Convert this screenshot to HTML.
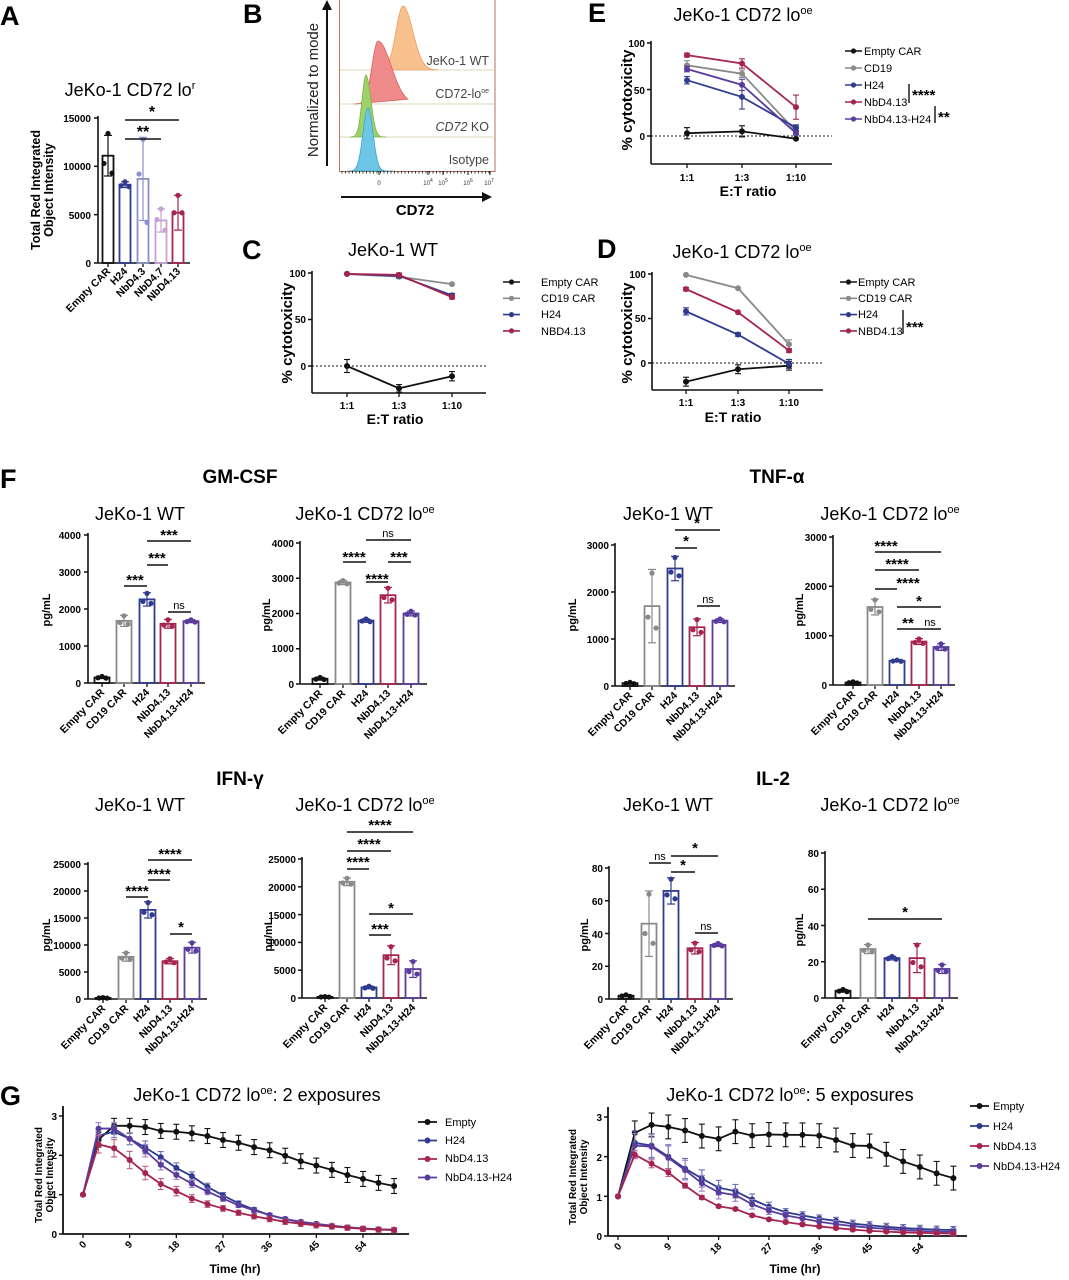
<!DOCTYPE html>
<html><head><meta charset="utf-8"><style>
html,body{margin:0;padding:0;background:#fff}
svg{display:block;font-family:"Liberation Sans",Arial,sans-serif}
.t{font-size:18px}
.b{font-weight:bold}
.tk{font-size:10px;font-weight:bold}
.lg{font-size:11px}
.cat{font-size:10.5px;font-weight:bold}
</style></head><body>
<svg id="s" width="1069" height="1280" viewBox="0 0 1069 1280" xmlns="http://www.w3.org/2000/svg">
<g id="shapes"></g>
<!-- Panel letters -->
<text x="0" y="25" font-size="27" class="b">A</text>
<text x="243" y="23" font-size="27" class="b">B</text>
<text x="242" y="259" font-size="27" class="b">C</text>
<text x="588" y="22" font-size="27" class="b">E</text>
<text x="597" y="258" font-size="27" class="b">D</text>
<text x="0" y="488" font-size="27" class="b">F</text>
<text x="0" y="1105" font-size="27" class="b">G</text>

<!-- A -->
<text x="130" y="96" text-anchor="middle" class="t">JeKo-1 CD72 lo<tspan font-size="11" dy="-7">r</tspan></text>
<g class="tk" text-anchor="end"><text x="91" y="122">15000</text><text x="91" y="170">10000</text><text x="91" y="219">5000</text><text x="91" y="267">0</text></g>
<text transform="translate(40,190) rotate(-90)" text-anchor="middle" font-size="12.5" class="b">Total Red Integrated</text>
<text transform="translate(53,190) rotate(-90)" text-anchor="middle" font-size="12.5" class="b">Object Intensity</text>
<g class="cat" text-anchor="end">
<text transform="translate(111,272) rotate(-45)">Empty CAR</text>
<text transform="translate(128,272) rotate(-45)">H24</text>
<text transform="translate(146,272) rotate(-45)">NbD4.3</text>
<text transform="translate(164,272) rotate(-45)">NbD4.7</text>
<text transform="translate(181,272) rotate(-45)">NbD4.13</text>
</g>
<text x="143" y="137" text-anchor="middle" font-size="16" class="b">**</text>
<text x="152" y="117" text-anchor="middle" font-size="16" class="b">*</text>

<!-- B -->
<text x="489" y="65" text-anchor="end" font-size="12.5" fill="#444">JeKo-1 WT</text>
<text x="489" y="98" text-anchor="end" font-size="12.5" fill="#444">CD72-lo<tspan font-size="7" dy="-5">oe</tspan></text>
<text x="489" y="131" text-anchor="end" font-size="12.5" fill="#444"><tspan font-style="italic">CD72</tspan> KO</text>
<text x="489" y="164" text-anchor="end" font-size="12.5" fill="#444">Isotype</text>
<text transform="translate(318,90) rotate(-90)" text-anchor="middle" font-size="15" fill="#222">Normalized to mode</text>
<g font-size="6" fill="#333" text-anchor="middle"><text x="379" y="185">0</text><text x="428" y="185">10<tspan font-size="5" dy="-3">4</tspan></text><text x="443" y="185">10<tspan font-size="5" dy="-3">5</tspan></text><text x="468" y="185">10<tspan font-size="5" dy="-3">6</tspan></text><text x="489" y="185">10<tspan font-size="5" dy="-3">7</tspan></text></g>
<text x="415" y="215" text-anchor="middle" font-size="15" class="b">CD72</text>

<!-- C -->
<text x="393" y="256" text-anchor="middle" class="t">JeKo-1 WT</text>
<g class="tk" text-anchor="end"><text x="306" y="277">100</text><text x="306" y="323">50</text><text x="306" y="370">0</text></g>
<text transform="translate(292,333) rotate(-90)" text-anchor="middle" font-size="15" class="b">% cytotoxicity</text>
<g class="tk" text-anchor="middle"><text x="347" y="409">1:1</text><text x="399" y="409">1:3</text><text x="452" y="409">1:10</text></g>
<text x="395" y="424" text-anchor="middle" font-size="14" class="b">E:T ratio</text>
<g class="lg"><text x="541" y="286">Empty CAR</text><text x="541" y="302">CD19 CAR</text><text x="541" y="318">H24</text><text x="541" y="335">NBD4.13</text></g>

<!-- E -->
<text x="743" y="21" text-anchor="middle" class="t">JeKo-1 CD72 lo<tspan font-size="11" dy="-7">oe</tspan></text>
<g class="tk" text-anchor="end"><text x="645" y="47">100</text><text x="645" y="94">50</text><text x="645" y="140">0</text></g>
<text transform="translate(632,100) rotate(-90)" text-anchor="middle" font-size="15" class="b">% cytotoxicity</text>
<g class="tk" text-anchor="middle"><text x="687" y="181">1:1</text><text x="742" y="181">1:3</text><text x="796" y="181">1:10</text></g>
<text x="748" y="196" text-anchor="middle" font-size="14" class="b">E:T ratio</text>
<g class="lg"><text x="864" y="55">Empty CAR</text><text x="864" y="72">CD19</text><text x="864" y="89">H24</text><text x="864" y="106">NbD4.13</text><text x="864" y="123">NbD4.13-H24</text></g>
<text x="912" y="100" font-size="15" class="b">****</text>
<text x="938" y="122" font-size="15" class="b">**</text>

<!-- D -->
<text x="742" y="258" text-anchor="middle" class="t">JeKo-1 CD72 lo<tspan font-size="11" dy="-7">oe</tspan></text>
<g class="tk" text-anchor="end"><text x="646" y="278">100</text><text x="646" y="322">50</text><text x="646" y="367">0</text></g>
<text transform="translate(632,333) rotate(-90)" text-anchor="middle" font-size="15" class="b">% cytotoxicity</text>
<g class="tk" text-anchor="middle"><text x="686" y="406">1:1</text><text x="738" y="406">1:3</text><text x="789" y="406">1:10</text></g>
<text x="733" y="422" text-anchor="middle" font-size="14" class="b">E:T ratio</text>
<g class="lg"><text x="858" y="286">Empty CAR</text><text x="858" y="302">CD19 CAR</text><text x="858" y="318">H24</text><text x="858" y="335">NBD4.13</text></g>
<text x="906" y="332" font-size="15" class="b">***</text>

<!-- F headers -->
<text x="240" y="483" text-anchor="middle" font-size="19" class="b">GM-CSF</text>
<text x="777" y="483" text-anchor="middle" font-size="19" class="b">TNF-α</text>
<text x="240" y="785" text-anchor="middle" font-size="19" class="b">IFN-γ</text>
<text x="773" y="785" text-anchor="middle" font-size="19" class="b">IL-2</text>
<g class="t" text-anchor="middle">
<text x="140" y="520">JeKo-1 WT</text>
<text x="365" y="520">JeKo-1 CD72 lo<tspan font-size="11" dy="-7">oe</tspan></text>
<text x="668" y="520">JeKo-1 WT</text>
<text x="890" y="520">JeKo-1 CD72 lo<tspan font-size="11" dy="-7">oe</tspan></text>
<text x="140" y="811">JeKo-1 WT</text>
<text x="365" y="811">JeKo-1 CD72 lo<tspan font-size="11" dy="-7">oe</tspan></text>
<text x="668" y="811">JeKo-1 WT</text>
<text x="890" y="811">JeKo-1 CD72 lo<tspan font-size="11" dy="-7">oe</tspan></text>
</g>
<!-- y labels -->
<g font-size="11" class="b">
<text transform="translate(50,610) rotate(-90)" text-anchor="middle">pg/mL</text>
<text transform="translate(270,615) rotate(-90)" text-anchor="middle">pg/mL</text>
<text transform="translate(576,615) rotate(-90)" text-anchor="middle">pg/mL</text>
<text transform="translate(803,610) rotate(-90)" text-anchor="middle">pg/mL</text>
<text transform="translate(50,935) rotate(-90)" text-anchor="middle">pg/mL</text>
<text transform="translate(272,935) rotate(-90)" text-anchor="middle">pg/mL</text>
<text transform="translate(588,935) rotate(-90)" text-anchor="middle">pg/mL</text>
<text transform="translate(803,930) rotate(-90)" text-anchor="middle">pg/mL</text>
</g>
<!-- y ticks F -->
<g class="tk" text-anchor="end">
<text x="81" y="539">4000</text><text x="81" y="576">3000</text><text x="81" y="613">2000</text><text x="81" y="650">1000</text><text x="81" y="687">0</text>
<text x="294" y="547">4000</text><text x="294" y="582">3000</text><text x="294" y="617">2000</text><text x="294" y="652">1000</text><text x="294" y="688">0</text>
<text x="609" y="549">3000</text><text x="609" y="596">2000</text><text x="609" y="643">1000</text><text x="609" y="690">0</text>
<text x="827" y="541">3000</text><text x="827" y="590">2000</text><text x="827" y="639">1000</text><text x="827" y="689">0</text>
<text x="81" y="868">25000</text><text x="81" y="895">20000</text><text x="81" y="922">15000</text><text x="81" y="949">10000</text><text x="81" y="976">5000</text><text x="81" y="1003">0</text>
<text x="296" y="863">25000</text><text x="296" y="891">20000</text><text x="296" y="919">15000</text><text x="296" y="946">10000</text><text x="296" y="974">5000</text><text x="296" y="1002">0</text>
<text x="603" y="872">80</text><text x="603" y="905">60</text><text x="603" y="938">40</text><text x="603" y="970">20</text><text x="603" y="1003">0</text>
<text x="819" y="857">80</text><text x="819" y="893">60</text><text x="819" y="930">40</text><text x="819" y="966">20</text><text x="819" y="1002">0</text>
</g>
<!-- categories F -->
<g class="cat" text-anchor="end">
<text transform="translate(105,693) rotate(-45)">Empty CAR</text><text transform="translate(127,693) rotate(-45)">CD19 CAR</text><text transform="translate(150,693) rotate(-45)">H24</text><text transform="translate(171,693) rotate(-45)">NbD4.13</text><text transform="translate(194,693) rotate(-45)">NbD4.13-H24</text>
<text transform="translate(323,694) rotate(-45)">Empty CAR</text><text transform="translate(346,694) rotate(-45)">CD19 CAR</text><text transform="translate(369,694) rotate(-45)">H24</text><text transform="translate(391,694) rotate(-45)">NbD4.13</text><text transform="translate(414,694) rotate(-45)">NbD4.13-H24</text>
<text transform="translate(633,696) rotate(-45)">Empty CAR</text><text transform="translate(655,696) rotate(-45)">CD19 CAR</text><text transform="translate(678,696) rotate(-45)">H24</text><text transform="translate(700,696) rotate(-45)">NbD4.13</text><text transform="translate(723,696) rotate(-45)">NbD4.13-H24</text>
<text transform="translate(856,695) rotate(-45)">Empty CAR</text><text transform="translate(878,695) rotate(-45)">CD19 CAR</text><text transform="translate(900,695) rotate(-45)">H24</text><text transform="translate(922,695) rotate(-45)">NbD4.13</text><text transform="translate(944,695) rotate(-45)">NbD4.13-H24</text>
<text transform="translate(106,1009) rotate(-45)">Empty CAR</text><text transform="translate(129,1009) rotate(-45)">CD19 CAR</text><text transform="translate(151,1009) rotate(-45)">H24</text><text transform="translate(173,1009) rotate(-45)">NbD4.13</text><text transform="translate(195,1009) rotate(-45)">NbD4.13-H24</text>
<text transform="translate(328,1008) rotate(-45)">Empty CAR</text><text transform="translate(350,1008) rotate(-45)">CD19 CAR</text><text transform="translate(372,1008) rotate(-45)">H24</text><text transform="translate(394,1008) rotate(-45)">NbD4.13</text><text transform="translate(416,1008) rotate(-45)">NbD4.13-H24</text>
<text transform="translate(629,1009) rotate(-45)">Empty CAR</text><text transform="translate(652,1009) rotate(-45)">CD19 CAR</text><text transform="translate(674,1009) rotate(-45)">H24</text><text transform="translate(698,1009) rotate(-45)">NbD4.13</text><text transform="translate(721,1009) rotate(-45)">NbD4.13-H24</text>
<text transform="translate(846,1008) rotate(-45)">Empty CAR</text><text transform="translate(871,1008) rotate(-45)">CD19 CAR</text><text transform="translate(895,1008) rotate(-45)">H24</text><text transform="translate(920,1008) rotate(-45)">NbD4.13</text><text transform="translate(945,1008) rotate(-45)">NbD4.13-H24</text>
</g>
<!-- sig text F -->
<g font-size="15" class="b" text-anchor="middle">
<text x="135" y="585">***</text><text x="157" y="563">***</text><text x="169" y="540">***</text>
<text x="354" y="562">****</text><text x="377" y="584">****</text><text x="399" y="562">***</text>
<text x="686" y="546">*</text><text x="697" y="528">*</text>
<text x="886" y="551">****</text><text x="897" y="569">****</text><text x="908" y="588">****</text><text x="919" y="606">*</text><text x="908" y="628">**</text>
<text x="137" y="896">****</text><text x="159" y="879">****</text><text x="170" y="859">****</text><text x="181" y="932">*</text>
<text x="358" y="867">****</text><text x="369" y="849">****</text><text x="380" y="830">****</text><text x="391" y="913">*</text><text x="380" y="934">***</text>
<text x="683" y="870">*</text><text x="695" y="853">*</text>
<text x="905" y="917">*</text>
</g>
<g font-size="11" text-anchor="middle">
<text x="179" y="609">ns</text><text x="388" y="537">ns</text><text x="708" y="603">ns</text><text x="930" y="626">ns</text><text x="660" y="860">ns</text><text x="706" y="930">ns</text>
</g>

<!-- G -->
<text x="257" y="1101" text-anchor="middle" class="t">JeKo-1 CD72 lo<tspan font-size="11" dy="-7">oe</tspan><tspan dy="7">: 2 exposures</tspan></text>
<text x="790" y="1101" text-anchor="middle" class="t">JeKo-1 CD72 lo<tspan font-size="11" dy="-7">oe</tspan><tspan dy="7">: 5 exposures</tspan></text>
<g class="tk" text-anchor="end">
<text x="57" y="1120">3</text><text x="57" y="1159">2</text><text x="57" y="1198">1</text><text x="57" y="1238">0</text>
<text x="602" y="1121">3</text><text x="602" y="1161">2</text><text x="602" y="1201">1</text><text x="602" y="1240">0</text>
</g>
<g font-size="10" class="b" text-anchor="middle">
<text transform="translate(42,1175) rotate(-90)">Total Red Integrated</text>
<text transform="translate(53,1175) rotate(-90)">Object Intensity</text>
<text transform="translate(576,1177) rotate(-90)">Total Red Integrated</text>
<text transform="translate(587,1177) rotate(-90)">Object Intensity</text>
</g>
<g class="tk" text-anchor="end">
<text transform="translate(87,1245) rotate(-45)">0</text><text transform="translate(133,1245) rotate(-45)">9</text><text transform="translate(180,1245) rotate(-45)">18</text><text transform="translate(227,1245) rotate(-45)">27</text><text transform="translate(273,1245) rotate(-45)">36</text><text transform="translate(320,1245) rotate(-45)">45</text><text transform="translate(367,1245) rotate(-45)">54</text>
<text transform="translate(622,1247) rotate(-45)">0</text><text transform="translate(672,1247) rotate(-45)">9</text><text transform="translate(722,1247) rotate(-45)">18</text><text transform="translate(773,1247) rotate(-45)">27</text><text transform="translate(823,1247) rotate(-45)">36</text><text transform="translate(873,1247) rotate(-45)">45</text><text transform="translate(924,1247) rotate(-45)">54</text>
</g>
<text x="235" y="1273" text-anchor="middle" font-size="12" class="b">Time (hr)</text>
<text x="795" y="1273" text-anchor="middle" font-size="12" class="b">Time (hr)</text>
<g class="lg">
<text x="445" y="1126">Empty</text><text x="445" y="1144">H24</text><text x="445" y="1162">NbD4.13</text><text x="445" y="1181">NbD4.13-H24</text>
<text x="993" y="1110">Empty</text><text x="993" y="1130">H24</text><text x="993" y="1150">NbD4.13</text><text x="993" y="1170">NbD4.13-H24</text>
</g>
</svg>
<script>
var NS="http://www.w3.org/2000/svg",S=document.getElementById("shapes");
function el(t,a){var e=document.createElementNS(NS,t);for(var k in a)e.setAttribute(k,a[k]);S.appendChild(e);return e;}
function ln(x1,y1,x2,y2,c,w,extra){var a={x1:x1,y1:y1,x2:x2,y2:y2,stroke:c||"#111","stroke-width":w||1.5};if(extra)for(var k in extra)a[k]=extra[k];return el("line",a);}
function dot(x,y,r,c){el("circle",{cx:x,cy:y,r:r,fill:c});}
var K="#111",G="#8a8a8a",B="#2f3b8f",R="#a52452",P="#5a3c9c",LB="#8b90c8",LP="#c7a2d2";
// bar chart
function bars(o){
 var sc=(o.y0-o.ytop)/o.max;
 ln(o.ax,o.ytop-2,o.ax,o.y0,K,1.6);ln(o.ax,o.y0,o.xend,o.y0,K,1.6);
 for(var i=0;i<=o.nt;i++){var y=o.y0-i*(o.y0-o.ytop)/o.nt;ln(o.ax-4,y,o.ax,y,K,1.5);}
 o.b.forEach(function(b){
  var y=o.y0-b[1]*sc,h=b[1]*sc,w=o.w||15;
  ln(b[0],o.y0,b[0],o.y0+4,K,1.3);
  el("rect",{x:b[0]-w/2,y:y,width:w,height:Math.max(h,0.5),fill:"none",stroke:b[3],"stroke-width":1.8});
  var e=b[2]*sc;ln(b[0],y-e,b[0],y+e,b[3],1.2);ln(b[0]-4,y-e,b[0]+4,y-e,b[3],1.2);ln(b[0]-4,y+e,b[0]+4,y+e,b[3],1.2);
  var pts=b[4]||[b[1]+b[2]*0.9,b[1]-b[2]*0.3,b[1]-b[2]*0.6];
  var xs=[b[0],b[0]-4,b[0]+4];
  pts.forEach(function(p,j){dot(xs[j],o.y0-p*sc,2.6,b[3]);});
 });
 (o.sig||[]).forEach(function(s){ln(s[0],s[2],s[1],s[2],K,1.5);});
}
// A
bars({ax:98,y0:263,ytop:118,max:15000,nt:3,xend:190,w:11,b:[[108,11100,2100,K,[13400,10300,9300]],[125,8100,300,B,[8400,8000,7900]],[143,8700,4300,LB,[12800,9200,4200]],[161,4400,1200,LP,[5600,4500,3400]],[178,5200,1800,R,[7000,5200,5200]]],sig:[[125,161,139],[125,179,120]]});
// F
bars({ax:88,y0:683,ytop:535,max:4000,nt:4,xend:205,b:[[102,150,30,K],[124,1680,150,G],[147,2260,180,B],[168,1600,120,R],[191,1670,40,P]],sig:[[124,147,586],[147,168,565],[147,191,541],[168,191,612]]});
bars({ax:300,y0:684,ytop:543,max:4000,nt:4,xend:427,b:[[320,150,40,K],[343,2880,60,G],[366,1800,50,B],[388,2520,220,R],[411,2000,70,P]],sig:[[343,366,562],[366,411,540],[366,388,582],[388,411,562]]});
bars({ax:615,y0:686,ytop:545,max:3000,nt:3,xend:735,b:[[630,60,20,K],[652,1700,780,G],[675,2500,260,B],[697,1250,180,R],[720,1390,40,P]],sig:[[675,697,548],[675,720,530],[697,720,606]]});
bars({ax:833,y0:685,ytop:537,max:3000,nt:3,xend:955,b:[[853,50,15,K],[875,1580,160,G],[897,490,15,B],[919,880,60,R],[941,770,70,P]],sig:[[875,941,552],[875,919,570],[875,897,589],[897,941,607],[897,919,629],[919,941,629]]});
bars({ax:88,y0:999,ytop:864,max:25000,nt:5,xend:207,b:[[103,200,60,K],[126,7800,800,G],[148,16500,1500,B],[170,7000,500,R],[192,9500,1000,P]],sig:[[126,148,897],[148,170,880],[148,192,860],[170,192,934]]});
bars({ax:302,y0:998,ytop:859,max:25000,nt:5,xend:427,b:[[325,200,50,K],[347,20900,700,G],[369,1900,250,B],[391,7700,1700,R],[413,5200,1500,P]],sig:[[347,369,869],[347,391,851],[347,413,832],[369,413,914],[369,391,935]]});
bars({ax:609,y0:999,ytop:868,max:80,nt:4,xend:733,b:[[626,2,0.6,K],[649,46,20,G],[671,66,8,B],[695,31,3.5,R],[718,33,1,P]],sig:[[649,671,863],[671,695,872],[671,718,856],[695,718,933]]});
bars({ax:825,y0:998,ytop:853,max:80,nt:4,xend:958,b:[[843,4,0.8,K],[868,27,2.5,G],[892,22,1,B],[917,22,8,R],[942,16,2.5,P]],sig:[[868,942,919]]});
// line charts C D E
function lines(o){
 var sc=(o.y0-o.ytop)/100;
 ln(o.ax,o.ytop-2,o.ax,o.yb,K,1.6);ln(o.ax,o.yb,o.xend,o.yb,K,1.6);
 [0,50,100].forEach(function(v){var y=o.y0-v*sc;ln(o.ax-4,y,o.ax,y,K,1.5);});
 o.xs.forEach(function(x){ln(x,o.yb,x,o.yb+4,K,1.3);});
 ln(o.ax,o.y0,o.xend,o.y0,K,1,{"stroke-dasharray":"2,2"});
 o.s.forEach(function(s){
  var pts=s[1].map(function(v,i){return [o.xs[i],o.y0-v*sc];});
  el("polyline",{points:pts.map(function(p){return p.join(",")}).join(" "),fill:"none",stroke:s[0],"stroke-width":1.8});
  pts.forEach(function(p,i){var e=(s[2]?s[2][i]:2)*sc;if(e>1){ln(p[0],p[1]-e,p[0],p[1]+e,s[0],1.1);ln(p[0]-3,p[1]-e,p[0]+3,p[1]-e,s[0],1.1);ln(p[0]-3,p[1]+e,p[0]+3,p[1]+e,s[0],1.1);}dot(p[0],p[1],3,s[0]);});
 });
 o.lg.forEach(function(l,i){var y=o.ly+i*o.ld;ln(o.lx,y,o.lx+17,y,l,1.6);dot(o.lx+8.5,y,2.6,l);});
}
lines({ax:312,ytop:273,y0:366,yb:393,xend:486,xs:[347,399,452],s:[[G,[99,96,88],[1,2,1]],[B,[99,97,76],[1,2,2]],[R,[99,98,74],[1,2,2]],[K,[0,-24,-11],[7,4,5]]],lg:[K,G,B,R],lx:503,ly:282,ld:16.3});
lines({ax:651,ytop:43,y0:136,yb:164,xend:832,xs:[687,742,796],s:[[K,[3,5,-3],[6,6,1]],[G,[76,67,5],[5,4,3]],[B,[60,42,9],[4,13,3]],[P,[72,55,3],[3,6,2]],[R,[87,78,31],[2,5,13]]],lg:[K,G,B,R,P],lx:845,ly:51,ld:17});
ln(909,84,909,103,K,1.4);ln(935,106,935,123,K,1.4);
lines({ax:652,ytop:274,y0:363,yb:390,xend:823,xs:[686,738,789],s:[[K,[-21,-7,-3],[5,5,5]],[G,[99,84,21],[1,1,5]],[B,[58,32,-1],[4,2,5]],[R,[83,57,14],[2,1,2]]],lg:[K,G,B,R],lx:840,ly:282,ld:16.3});
ln(903,310,903,334,K,1.4);
// B histogram
el("rect",{x:339.5,y:-1,width:155.5,height:172.5,fill:"none",stroke:"#b5735a","stroke-width":1});
[70,104,137].forEach(function(y){ln(340,y,495,y,"#dcd7b8",1);});
function hist(cx,top,base,sd,col,str,skew){var d="M"+(cx-4*sd)+","+base;for(var x=cx-4*sd;x<=cx+5*sd;x+=1){var s=x<cx?sd:sd*(skew||1);var y=base-(base-top)*Math.exp(-Math.pow(x-cx,2)/(2*s*s));d+=" L"+x+","+y.toFixed(1);}d+=" Z";el("path",{d:d,fill:col,stroke:str,"stroke-width":0.8});}
hist(403,6,70,7,"#f7c08d","#e9a060",1.4);
hist(378,41,104,6,"#ee8a8a","#d96464",2.2);
hist(366,75,137,4,"#9fd16a","#7ab34a",1.2);
hist(368,108,171,5,"#6ec6e6","#3aa6d0",1);
for(var x=342;x<492;x+=3.5)ln(x,171,x,173.5,K,0.8);
[379,428,443,468,490].forEach(function(x){ln(x,171,x,175,K,1);});
ln(327,166,327,8,K,2);el("polygon",{points:"322,10 327,0 332,10",fill:K});
ln(341,197,484,197,K,2);el("polygon",{points:"482,192 492,197 482,202",fill:K});
// G time series
function ts(o){
 var sc=(o.y0-o.y3)/3;
 ln(o.ax,o.y3-10,o.ax,o.y0,K,1.8);ln(o.ax,o.y0,o.xend,o.y0,K,1.8);
 [0,1,2,3].forEach(function(v){ln(o.ax-4,o.y0-v*sc,o.ax,o.y0-v*sc,K,1.5);});
 [0,9,18,27,36,45,54].forEach(function(t){var x=o.x0+t*o.ph;ln(x,o.y0,x,o.y0+4,K,1.3);});
 o.s.forEach(function(s){
  var pts=s[1].map(function(v,i){return [o.x0+3*i*o.ph,o.y0-v*sc];});
  pts.forEach(function(p,i){if(i==0)return;var e=(s[2]*(i<4?1:Math.max(0.3,s[1][i]/2)))*sc;if(s[0]==K)e=s[2]*sc;ln(p[0],p[1]-e,p[0],p[1]+e,s[3]||s[0],1.1);ln(p[0]-3,p[1]-e,p[0]+3,p[1]-e,s[3]||s[0],1.1);ln(p[0]-3,p[1]+e,p[0]+3,p[1]+e,s[3]||s[0],1.1);});
  el("polyline",{points:pts.map(function(p){return p.join(",")}).join(" "),fill:"none",stroke:s[0],"stroke-width":1.8});
  pts.forEach(function(p){dot(p[0],p[1],3,s[0]);});
 });
 o.lg.forEach(function(l,i){var y=o.ly+i*o.ld;ln(o.lx,y,o.lx+19,y,l,1.8);dot(o.lx+9.5,y,3,l);});
}
ts({ax:63,y0:1234,y3:1116,x0:83,ph:5.185,xend:409,lx:418,ly:1122,ld:18.5,lg:[K,B,R,P],s:[
[K,[1,2.4,2.75,2.75,2.72,2.62,2.6,2.56,2.49,2.39,2.32,2.21,2.13,1.99,1.85,1.74,1.63,1.5,1.4,1.3,1.22],0.19],
[B,[1,2.5,2.6,2.42,2.2,1.95,1.68,1.47,1.2,0.98,0.78,0.62,0.48,0.38,0.3,0.25,0.21,0.17,0.14,0.12,0.11],0.15,"#6a70b0"],
[P,[1,2.68,2.68,2.42,2.12,1.76,1.5,1.28,1.08,0.9,0.73,0.6,0.48,0.38,0.31,0.26,0.21,0.17,0.14,0.12,0.1],0.15,"#9a7fc6"],
[R,[1,2.28,2.18,1.88,1.55,1.27,1.09,0.9,0.76,0.65,0.54,0.45,0.38,0.31,0.26,0.22,0.19,0.16,0.13,0.11,0.1],0.22,"#c06080"]]});
ts({ax:608,y0:1236,y3:1117,x0:618,ph:5.59,xend:967,lx:970,ly:1106,ld:20,lg:[K,B,R,P],s:[
[K,[1,2.6,2.8,2.75,2.66,2.52,2.45,2.63,2.53,2.56,2.55,2.55,2.53,2.42,2.28,2.27,2.06,1.88,1.74,1.58,1.46],0.3],
[B,[1,2.35,2.28,2.0,1.7,1.45,1.22,1.13,0.92,0.74,0.6,0.52,0.44,0.38,0.31,0.27,0.23,0.2,0.18,0.16,0.15],0.3,"#6a70b0"],
[P,[1,2.28,2.25,1.97,1.66,1.33,1.1,1.03,0.8,0.64,0.52,0.44,0.36,0.3,0.25,0.21,0.18,0.15,0.13,0.11,0.1],0.3,"#9a7fc6"],
[R,[1,2.05,1.82,1.6,1.27,0.97,0.75,0.68,0.52,0.42,0.35,0.29,0.24,0.2,0.16,0.13,0.11,0.09,0.08,0.07,0.06],0.1,"#c06080"]]});
</script>
</body></html>
